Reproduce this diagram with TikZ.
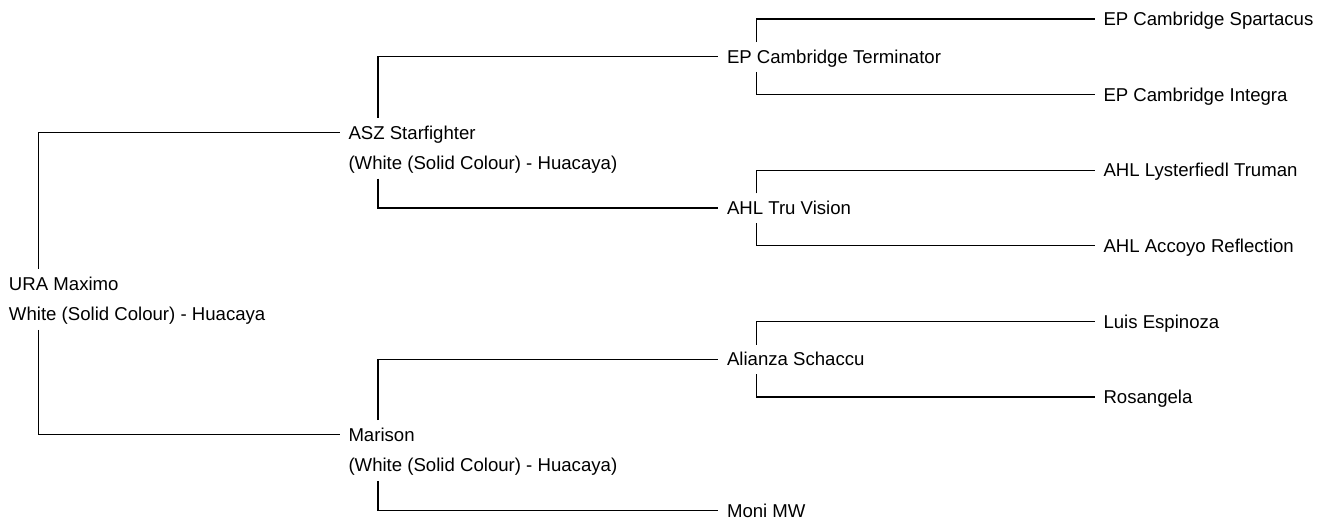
\documentclass[tikz,border=0pt]{standalone}
\usepackage{fontspec}
\setmainfont{Liberation Sans}
\begin{document}
\begin{tikzpicture}[x=1pt,y=-1pt,
	animal/.style={anchor=west,inner sep=0,outer sep=0,text height=13.3pt,text depth=0pt,font=\fontsize{18.6}{22}\selectfont},
	link/.style={line width=1.2pt}]
	\useasboundingbox (0,0) rectangle (1323,519);
	\node[animal] (ura) at (9,283.6) {URA Maximo};
	\node[animal] (uracol) at (9,313.6) {White (Solid Colour) - Huacaya};
	\node[animal] (asz) at (348.5,132.4) {ASZ Starfighter};
	\node[animal] (aszcol) at (348.5,162.4) {(White (Solid Colour) - Huacaya)};
	\node[animal] (mar) at (348.5,434.8) {Marison};
	\node[animal] (marcol) at (348.5,464.8) {(White (Solid Colour) - Huacaya)};
	\node[animal] (ept) at (727,56.8) {EP Cambridge Terminator};
	\node[animal] (ahl) at (727,208) {AHL Tru Vision};
	\node[animal] (ali) at (727,359.2) {Alianza Schaccu};
	\node[animal] (moni) at (727,510.4) {Moni MW};
	\node[animal] (eps) at (1103.5,19) {EP Cambridge Spartacus};
	\node[animal] (epi) at (1103.5,94.6) {EP Cambridge Integra};
	\node[animal] (ahlt) at (1103.5,170.2) {AHL Lysterfiedl Truman};
	\node[animal] (ahlr) at (1103.5,245.8) {AHL Accoyo Reflection};
	\node[animal] (luis) at (1103.5,321.4) {Luis Espinoza};
	\node[animal] (ros) at (1103.5,397) {Rosangela};
	\draw[link] ([shift={(29.5pt,8pt)}]ura.north west) |- ([xshift=-9pt]asz.west);
	\draw[link] ([shift={(29.5pt,-9.5pt)}]uracol.south west) |- ([xshift=-9pt]mar.west);
	\draw[link] ([shift={(29.5pt,8pt)}]asz.north west) |- ([xshift=-9pt]ept.west);
	\draw[link] ([shift={(29.5pt,-9.5pt)}]aszcol.south west) |- ([xshift=-9pt]ahl.west);
	\draw[link] ([shift={(29.5pt,8pt)}]mar.north west) |- ([xshift=-9pt]ali.west);
	\draw[link] ([shift={(29.5pt,-9.5pt)}]marcol.south west) |- ([xshift=-9pt]moni.west);
	\draw[link] ([shift={(29.5pt,8pt)}]ept.north west) |- ([xshift=-9pt]eps.west);
	\draw[link] ([shift={(29.5pt,-8.5pt)}]ept.south west) |- ([xshift=-9pt]epi.west);
	\draw[link] ([shift={(29.5pt,8pt)}]ahl.north west) |- ([xshift=-9pt]ahlt.west);
	\draw[link] ([shift={(29.5pt,-8.5pt)}]ahl.south west) |- ([xshift=-9pt]ahlr.west);
	\draw[link] ([shift={(29.5pt,8pt)}]ali.north west) |- ([xshift=-9pt]luis.west);
	\draw[link] ([shift={(29.5pt,-8.5pt)}]ali.south west) |- ([xshift=-9pt]ros.west);
\end{tikzpicture}
\end{document}
